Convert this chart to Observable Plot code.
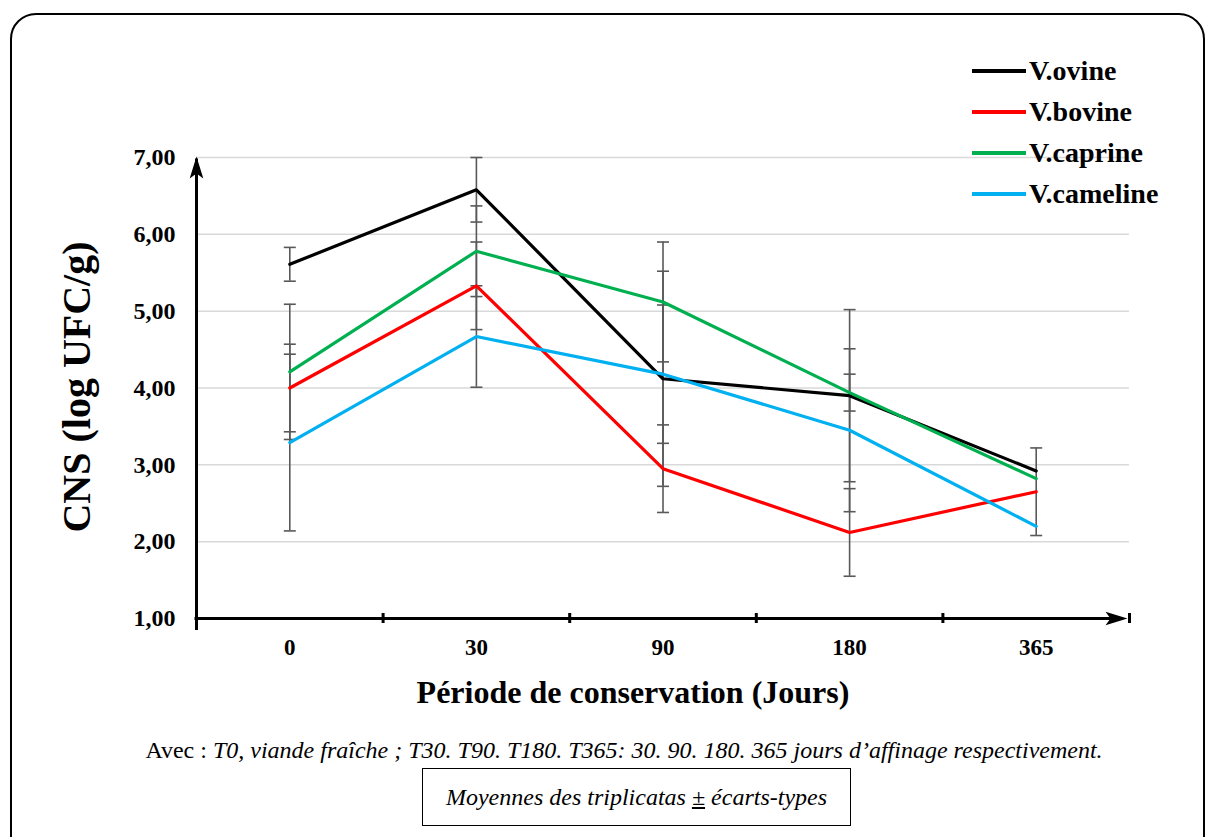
<!DOCTYPE html>
<html>
<head>
<meta charset="utf-8">
<script src="https://cdn.jsdelivr.net/npm/d3@7"></script>
<script src="https://cdn.jsdelivr.net/npm/@observablehq/plot@0.6"></script>
<style>
  html, body { margin: 0; padding: 0; background: #fff; overflow: hidden; }
  #page { position: relative; width: 1209px; height: 837px; font-family: "Liberation Serif", "Times New Roman", serif; }
  #frame { position: absolute; left: 10px; top: 13px; width: 1195px; height: 860px; border: 2px solid #000; border-radius: 26px; box-sizing: border-box; }
  #chart { position: absolute; left: 0; top: 0; }
  .abs { position: absolute; white-space: nowrap; }
  #ytitle { left: 76px; top: 387px; transform: translate(-50%, -50%) rotate(-90deg); font-weight: bold; font-size: 40px; }
  #xtitle { left: 633px; top: 692px; transform: translate(-50%, -50%); font-weight: bold; font-size: 32px; }
  #caption { left: 624px; top: 750px; transform: translate(-50%, -50%); font-size: 24px; }
  #box { left: 422px; top: 768px; width: 429px; height: 58px; border: 1.5px solid #000; box-sizing: border-box; display: flex; align-items: center; justify-content: center; font-style: italic; font-size: 24px; }
  #legend { left: 972px; top: 50px; }
  .lg { display: flex; align-items: center; height: 41px; font-weight: bold; font-size: 28px; }
  .lg .sw { width: 54px; height: 4px; margin-right: 3px; }
</style>
</head>
<body>
<div id="page">
  <div id="frame"></div>
  <div id="chart"></div>
  <div id="ytitle" class="abs">CNS (log UFC/g)</div>
  <div id="xtitle" class="abs">Période de conservation (Jours)</div>
  <div id="caption" class="abs">Avec : <i>T0, viande fraîche ; T30. T90. T180. T365: 30. 90. 180. 365 jours d’affinage respectivement.</i></div>
  <div id="box" class="abs">Moyennes des triplicatas&nbsp;<u>±</u>&nbsp;écarts-types</div>
  <div id="legend" class="abs"></div>
</div>
<script>
// ---- Data ----
const days = ["0", "30", "90", "180", "365"];
const seriesNames = ["V.ovine", "V.bovine", "V.caprine", "V.cameline"];
const seriesColors = ["#000000", "#ff0000", "#00b050", "#00b0f0"];

const ovine    = [5.61, 6.58, 4.12, 3.90, 2.92];
const bovine   = [4.00, 5.33, 2.95, 2.12, 2.65];
const caprine  = [4.21, 5.78, 5.12, 3.94, 2.82];
const cameline = [3.29, 4.67, 4.18, 3.45, 2.20];

const ovineSd    = [0.22, 0.42, 1.40, 1.12, 0];
const bovineSd   = [0.57, 0.57, 0.57, 0.57, 0.57];
const caprineSd  = [0.88, 0.59, 0.78, 0.24, 0];
const camelineSd = [1.15, 0.66, 0.90, 1.06, 0];

const yTicks = [1, 2, 3, 4, 5, 6, 7];

// ---- Build table ----
const means = [ovine, bovine, caprine, cameline];
const sds = [ovineSd, bovineSd, caprineSd, camelineSd];
const data = [];
seriesNames.forEach((s, k) => {
  days.forEach((d, i) => {
    data.push({series: s, i, v: means[k][i], sd: sds[k][i]});
  });
});
const errs = data.filter(d => d.sd > 0);

const capSymbol = {
  draw(context, size) {
    const r = Math.sqrt(size / Math.PI);
    context.moveTo(-r, 0);
    context.lineTo(r, 0);
  }
};
// filled arrowheads with tip at the anchor point
const headUp = {
  draw(context, size) {
    const r = Math.sqrt(size / Math.PI);
    context.moveTo(0, 0);
    context.lineTo(-0.62 * r, 2 * r);
    context.lineTo(0, 1.55 * r);
    context.lineTo(0.62 * r, 2 * r);
    context.closePath();
  }
};
const headRight = {
  draw(context, size) {
    const r = Math.sqrt(size / Math.PI);
    context.moveTo(0, 0);
    context.lineTo(-2 * r, -0.62 * r);
    context.lineTo(-1.55 * r, 0);
    context.lineTo(-2 * r, 0.62 * r);
    context.closePath();
  }
};

const xMin = -0.5, xMax = days.length - 0.5;
const boundaries = d3.range(0.5, days.length, 1);

const chart = Plot.plot({
  width: 1209,
  height: 700,
  marginLeft: 196,
  marginRight: 80,
  marginTop: 157,
  marginBottom: 82,
  style: {fontFamily: "Liberation Serif, Times New Roman, serif", fontSize: "24px", fontWeight: "bold", color: "#000", background: "transparent", overflow: "visible"},
  x: {type: "linear", domain: [xMin, xMax], axis: null},
  y: {type: "linear", domain: [1, 7], axis: null},
  color: {domain: seriesNames, range: seriesColors},
  marks: [
    Plot.ruleY(yTicks.filter(t => t > 1), {x1: xMin, x2: xMax, stroke: "#d9d9d9", strokeWidth: 1.5}),
    Plot.axisY({ticks: yTicks, tickSize: 0, tickPadding: 21, tickFormat: d => d.toFixed(2).replace(".", ","), label: null, anchor: "left", fontSize: 24, fontWeight: "bold"}),
    Plot.axisX({ticks: d3.range(days.length), tickSize: 0, tickPadding: 20, tickFormat: i => days[i], label: null, anchor: "bottom", fontSize: 23, fontWeight: "bold"}),
    // error bars
    Plot.ruleX(errs, {x: "i", y1: d => d.v - d.sd, y2: d => d.v + d.sd, stroke: "#595959", strokeWidth: 1.6}),
    Plot.dot(errs, {x: "i", y: d => d.v + d.sd, symbol: capSymbol, r: 6, stroke: "#595959", strokeWidth: 1.6, fill: "none"}),
    Plot.dot(errs, {x: "i", y: d => d.v - d.sd, symbol: capSymbol, r: 6, stroke: "#595959", strokeWidth: 1.6, fill: "none"}),
    // series lines
    Plot.line(data, {x: "i", y: "v", z: "series", stroke: "series", strokeWidth: 3.2}),
    // axes with arrows
    Plot.ruleX([xMin], {y1: 1, y2: 7, stroke: "#000", strokeWidth: 3, insetTop: 12, insetBottom: -1.5}),
    Plot.ruleY([1], {x1: xMin, x2: xMax, stroke: "#000", strokeWidth: 3, insetLeft: -1.5, insetRight: 12}),
    Plot.ruleX(boundaries, {x: d => d, y1: 1, y2: 1, stroke: "#000", strokeWidth: 3, insetTop: -5, insetBottom: -5}),
    Plot.dot([{x: xMin, y: 7}], {x: "x", y: "y", symbol: headUp, r: 11, fill: "#000", stroke: "none", dy: -1}),
    Plot.dot([{x: xMax, y: 1}], {x: "x", y: "y", symbol: headRight, r: 11, fill: "#000", stroke: "none", dx: -2})
  ]
});
document.getElementById("chart").appendChild(chart);

// Legend
const lg = document.getElementById("legend");
seriesNames.forEach((s, k) => {
  const row = document.createElement("div");
  row.className = "lg";
  const sw = document.createElement("span");
  sw.className = "sw";
  sw.style.background = seriesColors[k];
  const t = document.createElement("span");
  t.textContent = s;
  row.appendChild(sw);
  row.appendChild(t);
  lg.appendChild(row);
});
</script>
</body>
</html>
